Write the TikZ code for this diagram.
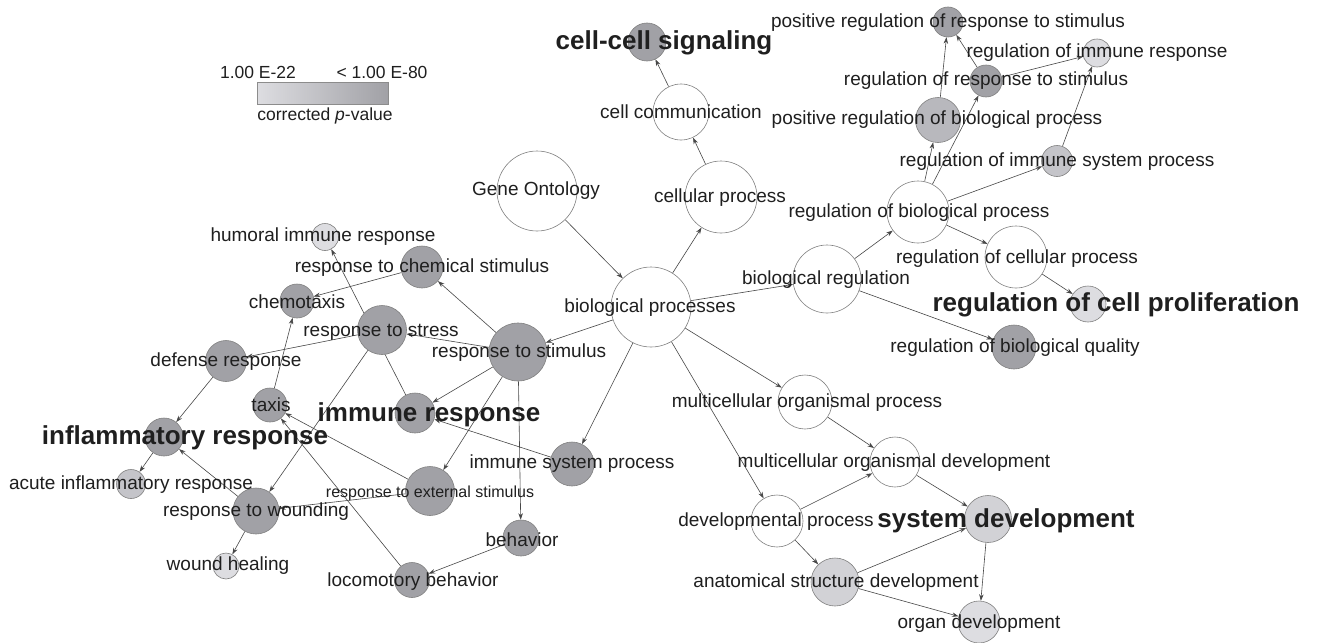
\documentclass[tikz,border=0pt]{standalone}
\usepackage{fontspec}
\setmainfont{Liberation Sans}
\usetikzlibrary{arrows.meta,backgrounds}

\definecolor{pdark}{RGB}{161,161,166}
\definecolor{pmid}{RGB}{184,184,189}
\definecolor{pmidl}{RGB}{196,196,201}
\definecolor{plight}{RGB}{221,221,225}
\definecolor{plightb}{RGB}{210,210,214}

\begin{document}
\begin{tikzpicture}[x=1pt, y=-1pt,
	term/.style={circle, draw=black!50, line width=0.6pt, fill=white, inner sep=0pt, minimum size=#1},
	lbl/.style={text=black!88, inner sep=0pt, font=\fontsize{19}{19}\selectfont},
	big/.style={lbl, font=\fontsize{26}{26}\selectfont\bfseries},
	small/.style={lbl, font=\fontsize{16}{16}\selectfont},
	leg/.style={lbl, font=\fontsize{17.5}{17.5}\selectfont},
	isa/.style={draw=black!72, line width=0.6pt, -{Stealth[length=6.5pt, width=4.5pt]}}]
	\useasboundingbox (0,0) rectangle (1324,642);

	% legend
	\node (bar) at (322.5,93) [draw=black!45, line width=0.6pt, left color=plight, right color=pdark, minimum width=131, minimum height=22, inner sep=0pt] {};
	\node[leg] (lo) at (258,72) {1.00 E-22};
	\node[leg] (hi) at (382,72) {< 1.00 E-80};
	\node[leg] (pv) at (325,116) {corrected \textit{p}-value};

	% top
	\node[term=38, fill=pdark] (cc) at (647,42) {};
	\node[term=56] (com) at (681,112) {};
	\node[term=72] (cel) at (721,197) {};
	\node[term=80] (go) at (537,191) {};
	\node[term=80] (bp) at (651,307) {};

	% regulation
	\node[term=30, fill=pdark] (prs) at (948,22) {};
	\node[term=28, fill=plight] (rir) at (1097,53) {};
	\node[term=32, fill=pdark] (rrs) at (986,81) {};
	\node[term=45, fill=pmid] (prb) at (938,120) {};
	\node[term=31, fill=pmidl] (ris) at (1057,161) {};
	\node[term=62] (rbp) at (918,212) {};
	\node[term=68] (br) at (827,279) {};
	\node[term=62] (rcp) at (1016,257) {};
	\node[term=36, fill=plight] (rcpr) at (1088,304) {};
	\node[term=44, fill=pdark] (rbq) at (1014,347) {};

	% development
	\node[term=54] (mop) at (805,402) {};
	\node[term=50] (mod) at (895,462) {};
	\node[term=52] (dp) at (777,521) {};
	\node[term=47, fill=plightb] (sd) at (988,519) {};
	\node[term=48, fill=plightb] (asd) at (835,582) {};
	\node[term=42, fill=plight] (od) at (979,622) {};

	% response
	\node[term=58, fill=pdark] (rst) at (518,352) {};
	\node[term=49, fill=pdark] (rss) at (382,330) {};
	\node[term=42, fill=pdark] (rcs) at (422,267) {};
	\node[term=27, fill=plight] (hir) at (325,237) {};
	\node[term=34, fill=pdark] (ctx) at (297,301) {};
	\node[term=41, fill=pdark] (dr) at (226,361) {};
	\node[term=34, fill=pdark] (tx) at (270,405) {};
	\node[term=40, fill=pdark] (ir) at (415,413) {};
	\node[term=38, fill=pdark] (inf) at (164,437) {};
	\node[term=29, fill=pmidl] (air) at (131,484) {};
	\node[term=46, fill=pdark] (rw) at (256,511) {};
	\node[term=26, fill=plight] (wh) at (226,566) {};
	\node[term=49, fill=pdark] (res) at (430,491) {};
	\node[term=44, fill=pdark] (isp) at (572,464) {};
	\node[term=36, fill=pdark] (beh) at (521,538) {};
	\node[term=35, fill=pdark] (lb) at (412,580) {};

	\begin{pgfonlayer}{background}
	\fill[white] (0,0) rectangle (1324,642);
	\draw[isa] (go) -- (bp);
	\draw[isa] (bp) -- (cel);
	\draw[isa] (cel) -- (com);
	\draw[isa] (com) -- (cc);
	\draw[isa] (bp) -- (br);
	\draw[isa] (br) -- (rbp);
	\draw[isa] (br) -- (rbq);
	\draw[isa] (rbp) -- (rcp);
	\draw[isa] (rcp) -- (rcpr);
	\draw[isa] (rbp) -- (prb);
	\draw[isa] (rbp) -- (rrs);
	\draw[isa] (rbp) -- (ris);
	\draw[isa] (ris) -- (rir);
	\draw[isa] (rrs) -- (rir);
	\draw[isa] (rrs) -- (prs);
	\draw[isa] (prb) -- (prs);
	\draw[isa] (bp) -- (rst);
	\draw[isa] (bp) -- (isp);
	\draw[isa] (bp) -- (mop);
	\draw[isa] (bp) -- (dp);
	\draw[isa] (mop) -- (mod);
	\draw[isa] (dp) -- (mod);
	\draw[isa] (mod) -- (sd);
	\draw[isa] (dp) -- (asd);
	\draw[isa] (asd) -- (sd);
	\draw[isa] (sd) -- (od);
	\draw[isa] (asd) -- (od);
	\draw[isa] (rst) -- (rcs);
	\draw[isa] (rst) -- (rss);
	\draw[isa] (rst) -- (ir);
	\draw[isa] (rst) -- (res);
	\draw[isa] (rst) -- (beh);
	\draw[isa] (ir) -- (hir);
	\draw[isa] (isp) -- (ir);
	\draw[isa] (rss) -- (dr);
	\draw[isa] (rss) -- (rw);
	\draw[isa] (rcs) -- (ctx);
	\draw[isa] (tx) -- (ctx);
	\draw[isa] (dr) -- (inf);
	\draw[isa] (inf) -- (air);
	\draw[isa] (rw) -- (inf);
	\draw[isa] (rw) -- (wh);
	\draw[isa] (res) -- (rw);
	\draw[isa] (res) -- (tx);
	\draw[isa] (lb) -- (tx);
	\draw[isa] (beh) -- (lb);
	\end{pgfonlayer}

	% labels
	\node[big] (ccT) at (664,43) {cell-cell signaling};
	\node[lbl] (comT) at (681,112) {cell communication};
	\node[lbl] (celT) at (720,198) {cellular process};
	\node[lbl] (goT) at (536,191) {Gene Ontology};
	\node[lbl] (bpT) at (650,308) {biological processes};
	\node[lbl] (prsT) at (948,23) {positive regulation of response to stimulus};
	\node[lbl] (rirT) at (1097,53) {regulation of immune response};
	\node[lbl] (rrsT) at (986,81) {regulation of response to stimulus};
	\node[lbl] (prbT) at (937,120) {positive regulation of biological process};
	\node[lbl] (risT) at (1057,162) {regulation of immune system process};
	\node[lbl] (rbpT) at (919,213) {regulation of biological process};
	\node[lbl] (brT) at (826,280) {biological regulation};
	\node[lbl] (rcpT) at (1017,259) {regulation of cellular process};
	\node[big] (rcprT) at (1116,305) {regulation of cell proliferation};
	\node[lbl] (rbqT) at (1015,348) {regulation of biological quality};
	\node[lbl] (mopT) at (807,403) {multicellular organismal process};
	\node[lbl] (modT) at (894,463) {multicellular organismal development};
	\node[lbl] (dpT) at (776,522) {developmental process};
	\node[big] (sdT) at (1006,521) {system development};
	\node[lbl] (asdT) at (836,583) {anatomical structure development};
	\node[lbl] (odT) at (979,624) {organ development};
	\node[lbl] (rstT) at (519,353) {response to stimulus};
	\node[lbl] (rssT) at (381,332) {response to stress};
	\node[lbl] (rcsT) at (422,268) {response to chemical stimulus};
	\node[lbl] (hirT) at (323,237) {humoral immune response};
	\node[lbl] (ctxT) at (297,302) {chemotaxis};
	\node[lbl] (drT) at (226,362) {defense response};
	\node[lbl] (txT) at (271,405) {taxis};
	\node[big] (irT) at (429,415) {immune response};
	\node[big] (infT) at (185,438) {inflammatory response};
	\node[lbl] (airT) at (131,485) {acute inflammatory response};
	\node[lbl] (rwT) at (256,512) {response to wounding};
	\node[lbl] (whT) at (228,566) {wound healing};
	\node[small] (resT) at (430,493) {response to external stimulus};
	\node[lbl] (ispT) at (572,464) {immune system process};
	\node[lbl] (behT) at (522,540) {behavior};
	\node[lbl] (lbT) at (413,582) {locomotory behavior};
\end{tikzpicture}
\end{document}
